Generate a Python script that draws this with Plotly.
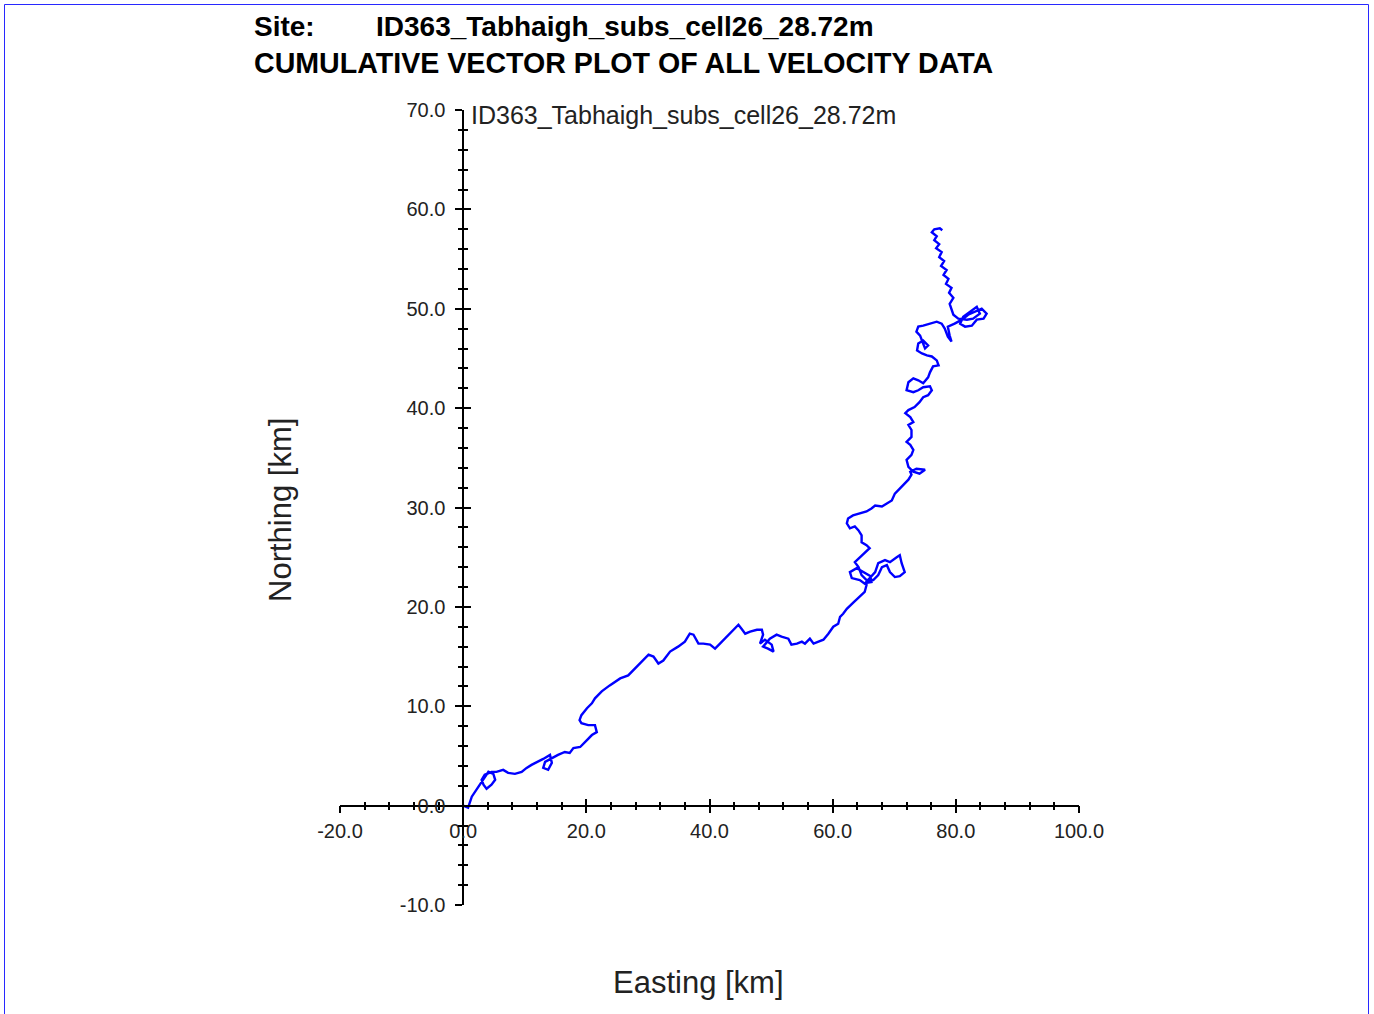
import plotly.graph_objects as go

site_name = "ID363_Tabhaigh_subs_cell26_28.72m"
title_line2 = "CUMULATIVE VECTOR PLOT OF ALL VELOCITY DATA"

# cumulative displacement (km)
easting_km = [
    0.0, 0.8, 1.4, 2.7, 3.3, 4.1, 4.9, 5.2, 4.6, 3.8, 3.3, 3.0, 3.5, 4.6, 5.4, 6.5, 7.3, 8.4, 9.5, 10.3,
    11.1, 12.2, 13.0, 14.1, 14.4, 13.8, 13.0, 13.3, 14.4, 15.4, 16.5, 17.3, 17.9, 19.0, 20.1, 20.9, 21.7, 21.4, 20.3, 19.2,
    18.9, 19.2, 20.1, 20.9, 21.4, 22.5, 23.8, 25.5, 26.8, 27.6, 28.7, 30.1, 30.9, 31.7, 32.5, 33.6, 34.9, 36.0, 36.8, 37.4,
    38.2, 39.0, 40.1, 40.9, 41.7, 42.8, 43.9, 44.7, 45.2, 45.8, 46.6, 47.7, 48.5, 48.7, 48.2, 49.0, 50.1, 50.4, 49.5, 48.7,
    49.8, 50.9, 51.7, 52.8, 53.3, 54.2, 55.0, 55.5, 56.3, 56.9, 57.7, 58.5, 59.3, 60.1, 60.9, 61.2, 61.7, 62.3, 63.3, 64.4,
    65.2, 65.5, 64.4, 63.1, 62.8, 63.9, 65.0, 66.1, 66.3, 65.3, 66.9, 67.4, 68.5, 69.3, 70.4, 70.9, 71.2, 71.7, 70.9, 70.1,
    69.3, 68.8, 68.0, 67.4, 66.6, 65.5, 64.7, 64.2, 63.6, 64.4, 65.2, 66.0, 65.5, 64.7, 64.7, 64.2, 63.6, 62.8, 62.3, 62.5,
    63.3, 64.4, 65.5, 66.3, 66.9, 68.0, 68.8, 69.6, 70.1, 71.5, 72.3, 72.8, 72.6, 73.6, 75.0, 74.1, 73.1, 72.3, 72.0, 72.8,
    73.1, 72.6, 72.0, 72.8, 72.8, 72.3, 73.1, 72.6, 71.8, 72.3, 73.3, 74.1, 74.7, 75.5, 76.1, 75.8, 74.7, 73.9, 73.1, 72.0,
    72.3, 73.1, 73.9, 74.7, 75.5, 75.8, 76.3, 77.2, 76.9, 76.1, 75.3, 74.5, 73.7, 73.9, 74.7, 75.5, 75.0, 74.5, 74.2, 73.6,
    73.9, 74.7, 75.8, 76.9, 77.7, 78.2, 78.7, 79.3, 79.0, 78.7, 79.8, 81.0, 82.0, 83.1, 84.2, 85.0, 84.5, 83.4, 82.6, 81.5,
    80.7, 81.2, 82.3, 83.4, 83.9, 82.8, 81.8, 80.4, 79.6, 79.3, 79.0, 79.6, 78.9, 79.3, 78.4, 78.8, 78.0, 78.5, 77.6, 78.1,
    77.3, 77.7, 76.8, 77.3, 76.5, 76.9, 76.1, 76.5, 77.4, 77.8,
]
northing_km = [
    0.0, -0.2, 0.9, 2.1, 2.7, 3.4, 3.2, 2.6, 2.1, 1.7, 2.1, 2.6, 3.1, 3.4, 3.4, 3.6, 3.3, 3.2, 3.4, 3.8,
    4.1, 4.4, 4.7, 5.1, 4.3, 3.6, 3.8, 4.4, 4.8, 5.1, 5.4, 5.3, 5.8, 5.9, 6.6, 7.1, 7.4, 8.1, 8.1, 8.3,
    8.6, 9.1, 9.8, 10.3, 10.8, 11.5, 12.1, 12.8, 13.1, 13.6, 14.3, 15.2, 15.0, 14.3, 14.6, 15.5, 16.0, 16.5, 17.3, 17.2,
    16.3, 16.3, 16.2, 15.8, 16.3, 17.0, 17.8, 18.2, 17.8, 17.3, 17.5, 17.7, 17.7, 17.2, 16.3, 16.7, 16.2, 15.5, 15.8, 16.0,
    16.8, 17.2, 17.0, 16.8, 16.2, 16.3, 16.5, 16.3, 16.8, 16.3, 16.5, 16.7, 17.3, 18.0, 18.3, 19.0, 19.3, 19.8, 20.4, 21.0,
    21.5, 22.2, 22.7, 22.9, 23.5, 23.9, 23.5, 23.1, 22.5, 22.4, 23.5, 24.4, 24.7, 24.5, 25.0, 25.2, 24.4, 23.5, 23.1, 23.0,
    23.5, 24.2, 24.0, 23.2, 22.7, 22.7, 23.2, 24.0, 24.5, 25.0, 25.4, 25.9, 26.2, 26.5, 27.2, 27.7, 28.1, 27.9, 28.4, 28.9,
    29.2, 29.4, 29.6, 29.9, 30.2, 30.1, 30.4, 30.7, 31.4, 32.3, 32.8, 33.3, 33.6, 33.9, 33.8, 33.4, 33.6, 34.1, 34.8, 35.3,
    35.8, 36.3, 36.6, 37.1, 37.8, 38.3, 38.6, 39.1, 39.5, 39.8, 40.1, 40.6, 41.1, 41.3, 41.8, 42.2, 42.1, 41.8, 41.6, 41.8,
    42.6, 43.0, 42.8, 42.5, 43.1, 43.6, 44.2, 44.3, 44.8, 45.2, 45.3, 45.5, 45.8, 46.5, 46.8, 46.3, 46.0, 46.8, 47.3, 47.7,
    48.2, 48.3, 48.5, 48.7, 48.5, 48.0, 47.2, 46.7, 47.3, 48.2, 48.5, 48.9, 49.4, 49.7, 50.0, 49.5, 49.0, 48.9, 48.3, 48.2,
    48.5, 49.2, 49.7, 50.2, 49.5, 49.0, 48.9, 49.0, 49.4, 49.9, 50.5, 51.1, 51.6, 52.1, 52.5, 53.0, 53.4, 53.9, 54.3, 54.8,
    55.2, 55.7, 56.1, 56.5, 56.9, 57.3, 57.7, 58.0, 58.1, 57.9,
]

x_range = [-20, 100]
y_range = [-10, 70]
x_ticks = [-20, 0, 20, 40, 60, 80, 100]
y_ticks = [-10, 0, 10, 20, 30, 40, 50, 60, 70]
x_minor = 4
y_minor = 2

FONT = "Arial, Liberation Sans, sans-serif"
W, H = 1374, 1014
ML, MR, MT, MB = 340, 295, 110, 109
PW, PH = W - ML - MR, H - MT - MB


def px_x(p):
    return (p - ML) / PW


def px_y(p):
    return (H - MB - p) / PH


# fractional position of the zero lines inside the domains
x_axis_pos = (0 - y_range[0]) / (y_range[1] - y_range[0])
y_axis_pos = (0 - x_range[0]) / (x_range[1] - x_range[0])

fig = go.Figure()
fig.add_trace(go.Scatter(x=easting_km, y=northing_km, mode="lines",
                         line=dict(color="#0000ff", width=2.4), showlegend=False,
                         hoverinfo="skip"))
fig.add_trace(go.Scatter(x=[None], y=[None], xaxis="x2", yaxis="y2",
                         mode="lines", showlegend=False, hoverinfo="skip"))

tickfont = dict(family=FONT, size=20, color="#222")
common_x = dict(range=x_range, domain=[0, 1], anchor="free", position=x_axis_pos,
                showgrid=False, zeroline=False, tickvals=x_ticks,
                tickwidth=1.5, tickcolor="black", ticklen=7, fixedrange=True,
                minor=dict(dtick=x_minor, tick0=0, ticks="", ticklen=4,
                           tickwidth=1.5, tickcolor="black", showgrid=False))
common_y = dict(range=y_range, domain=[0, 1], anchor="free", position=y_axis_pos,
                showgrid=False, zeroline=False, tickvals=y_ticks,
                tickwidth=1.5, tickcolor="black", ticklen=7, fixedrange=True,
                minor=dict(dtick=y_minor, tick0=0, ticks="", ticklen=4,
                           tickwidth=1.5, tickcolor="black", showgrid=False))

xa = dict(common_x)
xa.update(ticks="outside", showline=True, linecolor="black", linewidth=1.5,
          ticktext=[f"{v:.1f}" for v in x_ticks], tickfont=tickfont,
          ticklabelstandoff=1)
xa["minor"] = dict(common_x["minor"], ticks="outside")
ya = dict(common_y)
ya.update(ticks="outside", showline=True, linecolor="black", linewidth=1.5,
          ticktext=[f"{v:.1f}" for v in y_ticks], tickfont=tickfont,
          ticklabelstandoff=6)
ya["minor"] = dict(common_y["minor"], ticks="outside")

xa2 = dict(common_x)
xa2.update(overlaying="x", ticks="inside", showline=False, showticklabels=False)
xa2["minor"] = dict(common_x["minor"], ticks="inside")
ya2 = dict(common_y)
ya2.update(overlaying="y", ticks="inside", showline=False, showticklabels=False)
ya2["minor"] = dict(common_y["minor"], ticks="inside")

annotations = [
    dict(text="<b>Site:</b>", x=px_x(252), y=px_y(26), xanchor="left", yanchor="middle",
         font=dict(family=FONT, size=28, color="black")),
    dict(text=f"<b>{site_name}</b>", x=px_x(374), y=px_y(26), xanchor="left", yanchor="middle",
         font=dict(family=FONT, size=28, color="black")),
    dict(text=f"<b>{title_line2}</b>", x=px_x(252), y=px_y(63), xanchor="left", yanchor="middle",
         font=dict(family=FONT, size=28.6, color="black")),
    dict(text=site_name, x=px_x(469), y=px_y(115), xanchor="left", yanchor="middle",
         font=dict(family=FONT, size=25, color="#222")),
    dict(text="Northing [km]", x=px_x(280), y=px_y(510), xanchor="center", yanchor="middle",
         textangle=-90, font=dict(family=FONT, size=31, color="#222")),
    dict(text="Easting [km]", x=px_x(698), y=px_y(982), xanchor="center", yanchor="middle",
         font=dict(family=FONT, size=31, color="#222")),
]
for a in annotations:
    a.update(xref="paper", yref="paper", showarrow=False)

fig.update_layout(
    width=W, height=H,
    margin=dict(l=ML, r=MR, t=MT, b=MB, pad=0),
    paper_bgcolor="white", plot_bgcolor="white",
    xaxis=xa, yaxis=ya, xaxis2=xa2, yaxis2=ya2,
    annotations=annotations,
    shapes=[dict(type="rect", xref="paper", yref="paper",
                 x0=px_x(4.5), x1=px_x(1368.5), y0=px_y(4.5), y1=px_y(1030),
                 line=dict(color="rgb(40,40,255)", width=1), fillcolor="rgba(0,0,0,0)")],
    showlegend=False,
)

fig.write_html("out.html", config={"displayModeBar": False},
               post_script="document.body.style.margin='0px';document.body.style.overflow='hidden';")
